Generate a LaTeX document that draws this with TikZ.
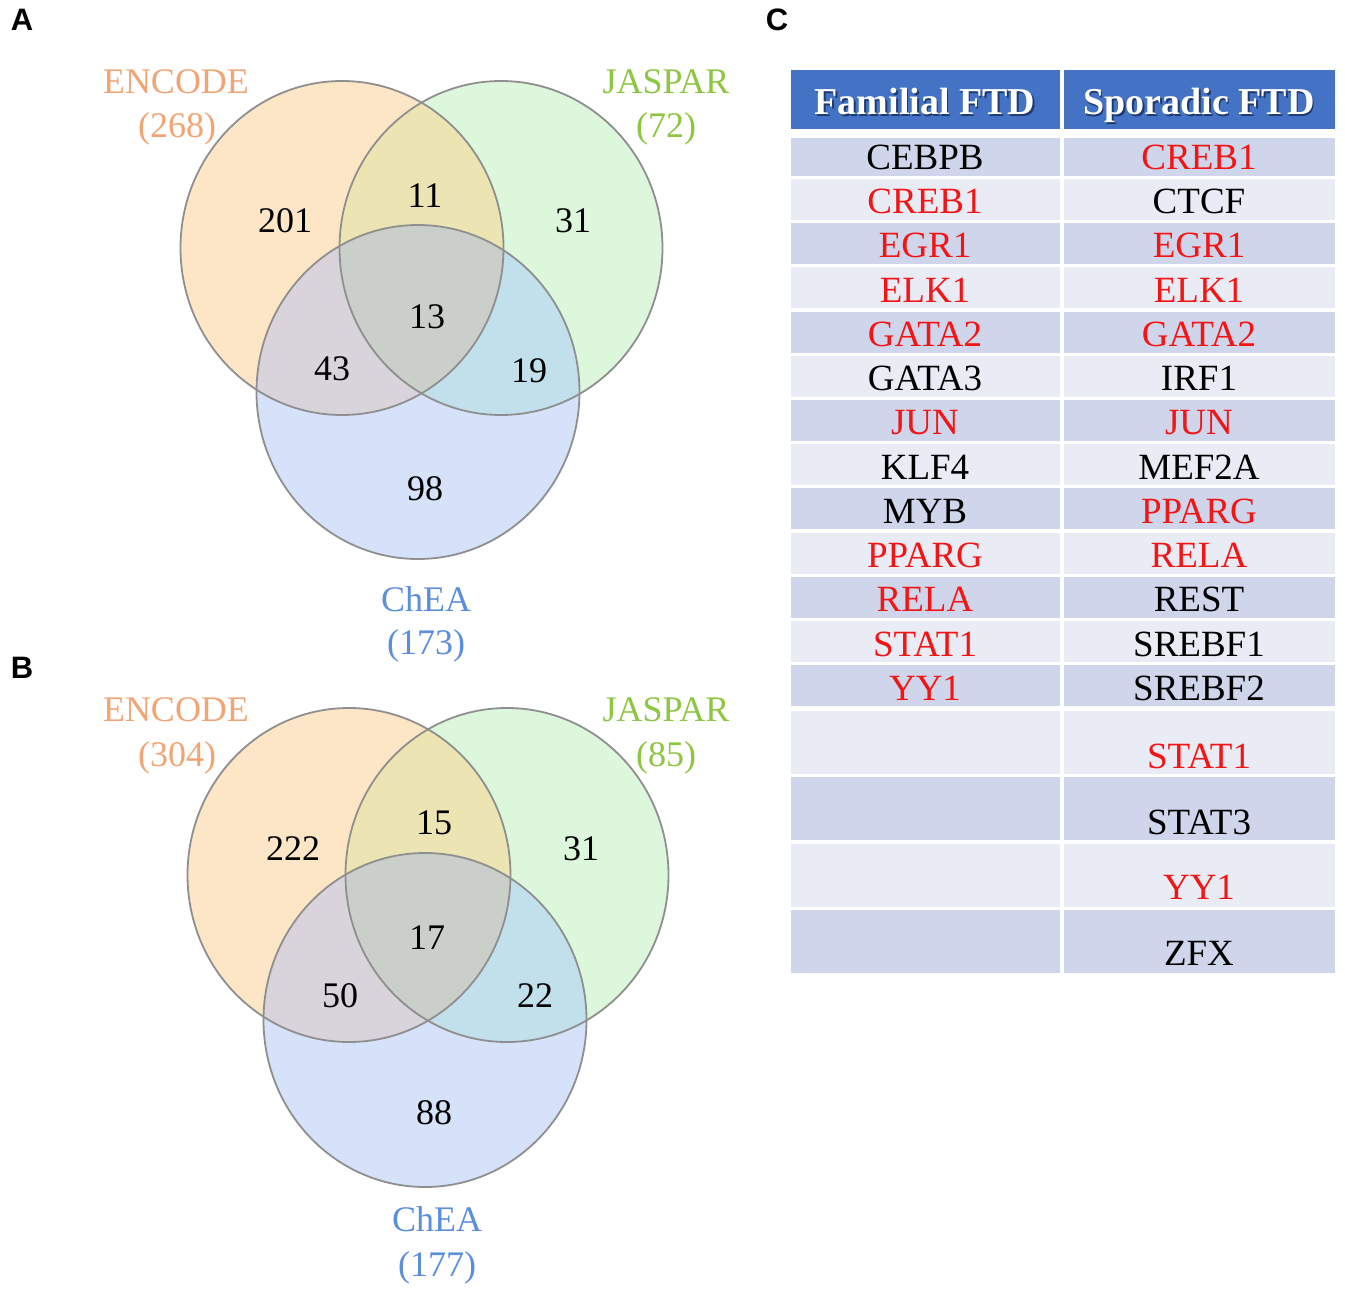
\documentclass[tikz,border=0pt]{standalone}
\usepackage{fontspec}
\setmainfont{Liberation Serif}
\newfontfamily\panelfont{Liberation Sans}
\definecolor{cE}{HTML}{FDE6C6}
\definecolor{cJ}{HTML}{DDF7DD}
\definecolor{cC}{HTML}{D6E2FA}
\definecolor{cEJ}{HTML}{ECE5B3}
\definecolor{cEC}{HTML}{D9D3DC}
\definecolor{cJC}{HTML}{C1E0EC}
\definecolor{cEJC}{HTML}{CACFCA}
\definecolor{cLine}{HTML}{8F8F8F}
\definecolor{tE}{HTML}{F2A574}
\definecolor{tJ}{HTML}{8DC641}
\definecolor{tC}{HTML}{5C8EDE}
\definecolor{tRed}{HTML}{F41414}
\definecolor{hdr}{HTML}{4472C4}
\definecolor{hdrShadow}{HTML}{1E3A6E}
\definecolor{rowDark}{HTML}{CFD5EA}
\definecolor{rowLight}{HTML}{E9EBF5}
\newcommand\myell[2]{(#1,#2) ellipse [x radius=161.5pt, y radius=167pt]}
\newcommand\myvenn[6]{%
  \fill[cE] \myell{#1}{#2};
  \fill[cJ] \myell{#3}{#4};
  \fill[cC] \myell{#5}{#6};
  \begin{scope}\clip \myell{#3}{#4}; \fill[cJC] \myell{#5}{#6};\end{scope}
  \begin{scope}\clip \myell{#1}{#2};
    \fill[cEJ] \myell{#3}{#4};
    \fill[cEC] \myell{#5}{#6};
    \clip \myell{#3}{#4};
    \fill[cEJC] \myell{#5}{#6};
  \end{scope}
  \draw[vline] \myell{#1}{#2};
  \draw[vline] \myell{#3}{#4};
  \draw[vline] \myell{#5}{#6};
}
\tikzset{
  vline/.style={draw=cLine, line width=1.8pt},
  lbl/.style={inner sep=0pt, text height=23.8pt, text depth=0pt, font=\fontsize{36}{40}\selectfont},
  num/.style={inner sep=0pt, text height=24.3pt, text depth=0pt, text=black, font=\fontsize{36}{40}\selectfont},
  panel/.style={inner sep=0pt, text height=22pt, text depth=0pt, font=\panelfont\bfseries\fontsize{31}{33}\selectfont},
  cell/.style={inner sep=0pt, text height=24.5pt, text depth=0pt, font=\fontsize{37}{40}\selectfont},
  hdrtext/.style={inner sep=0pt, text height=25.2pt, text depth=0pt, font=\bfseries\fontsize{38}{40}\selectfont},
}
\begin{document}
\begin{tikzpicture}[x=1pt,y=-1pt]
\useasboundingbox (0,0) rectangle (1345,1295);
\fill[white] (0,0) rectangle (1345,1295);

% panel labels
\node[panel] (pA) at (22,20) {A};
\node[panel] (pB) at (22,667) {B};
\node[panel] (pC) at (777,20) {C};

% Venn A
\myvenn{342}{248}{501}{248}{418}{392}
\node[lbl, text=tE] (aE1) at (176,82) {ENCODE};
\node[lbl, text=tE] (aE2) at (177,126) {(268)};
\node[lbl, text=tJ] (aJ1) at (666,82) {JASPAR};
\node[lbl, text=tJ] (aJ2) at (666,126) {(72)};
\node[lbl, text=tC] (aC1) at (426,600) {ChEA};
\node[lbl, text=tC] (aC2) at (426,643) {(173)};
\node[num] (a1) at (285,220) {201};
\node[num] (a2) at (425,195) {11};
\node[num] (a3) at (573,220) {31};
\node[num] (a4) at (427,316) {13};
\node[num] (a5) at (332,368) {43};
\node[num] (a6) at (529,370) {19};
\node[num] (a7) at (425,488) {98};

% Venn B
\myvenn{349}{875}{507}{875}{425}{1020}
\node[lbl, text=tE] (bE1) at (176,710) {ENCODE};
\node[lbl, text=tE] (bE2) at (177,755) {(304)};
\node[lbl, text=tJ] (bJ1) at (666,710) {JASPAR};
\node[lbl, text=tJ] (bJ2) at (666,755) {(85)};
\node[lbl, text=tC] (bC1) at (437,1220) {ChEA};
\node[lbl, text=tC] (bC2) at (437,1265) {(177)};
\node[num] (b1) at (293,848) {222};
\node[num] (b2) at (434,822) {15};
\node[num] (b3) at (581,848) {31};
\node[num] (b4) at (427,937) {17};
\node[num] (b5) at (340,995) {50};
\node[num] (b6) at (535,995) {22};
\node[num] (b7) at (434,1112) {88};

% Table header
\fill[hdr] (791,70) rectangle (1060,129);
\fill[hdr] (1064,70) rectangle (1335,129);
\node[hdrtext, text=hdrShadow] (h1s) at (926.5,103.5) {Familial FTD};
\node[hdrtext, text=white] (h1) at (925,102) {Familial FTD};
\node[hdrtext, text=hdrShadow] (h2s) at (1200.5,103.5) {Sporadic FTD};
\node[hdrtext, text=white] (h2) at (1199,102) {Sporadic FTD};

% Table rows 1-13
\foreach \k/\lt/\lc/\rt/\rc in {
 1/CEBPB/black/CREB1/tRed,
 2/CREB1/tRed/CTCF/black,
 3/EGR1/tRed/EGR1/tRed,
 4/ELK1/tRed/ELK1/tRed,
 5/GATA2/tRed/GATA2/tRed,
 6/GATA3/black/IRF1/black,
 7/JUN/tRed/JUN/tRed,
 8/KLF4/black/MEF2A/black,
 9/MYB/black/PPARG/tRed,
 10/PPARG/tRed/RELA/tRed,
 11/RELA/tRed/REST/black,
 12/STAT1/tRed/SREBF1/black,
 13/YY1/tRed/SREBF2/black}{
  \pgfmathsetmacro\top{\k==1 ? 138 : 179+(\k-2)*44.2}
  \pgfmathsetmacro\bot{\k==1 ? 176 : \top+41}
  \pgfmathsetmacro\ty{157+(\k-1)*44.25}
  \pgfmathtruncatemacro\odd{mod(\k,2)}
  \ifnum\odd=1 \def\rowc{rowDark}\else\def\rowc{rowLight}\fi
  \fill[\rowc] (791,\top) rectangle (1060,\bot);
  \fill[\rowc] (1064,\top) rectangle (1335,\bot);
  \node[cell, text=\lc] (L\k) at (925,\ty) {\lt};
  \node[cell, text=\rc] (R\k) at (1199,\ty) {\rt};
}

% Table rows 14-17 (taller)
\foreach \k/\top/\ty/\rt/\rc/\rowc in {
 14/711/756/STAT1/tRed/rowLight,
 15/777/822/STAT3/black/rowDark,
 16/844/887/YY1/tRed/rowLight,
 17/910/953/ZFX/black/rowDark}{
  \fill[\rowc] (791,\top) rectangle (1060,\top+63);
  \fill[\rowc] (1064,\top) rectangle (1335,\top+63);
  \node[cell, text=\rc] (R\k) at (1199,\ty) {\rt};
}
\end{tikzpicture}
\end{document}
